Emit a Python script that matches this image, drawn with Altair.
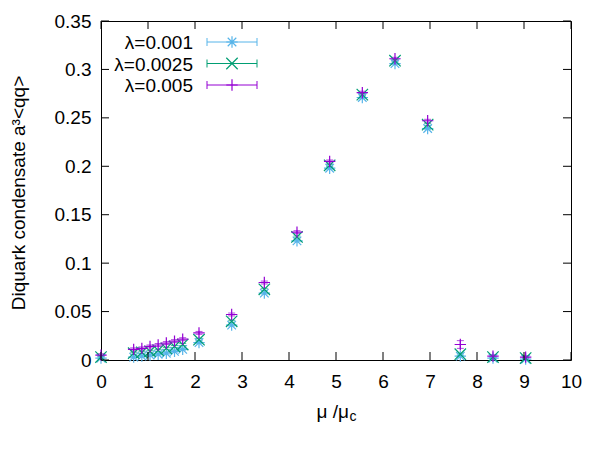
import altair as alt
import pandas as pd

# chemical potential in units of mu_c
mu = [0.0, 0.695, 0.869, 1.043, 1.216, 1.39, 1.564, 1.738, 2.085, 2.78,
      3.475, 4.17, 4.865, 5.56, 6.255, 6.95, 7.645, 8.34, 9.035]

# diquark condensate for the three source strengths
qq_0001 = [0.002, 0.003, 0.004, 0.005, 0.006, 0.007, 0.009, 0.011, 0.018, 0.036,
           0.069, 0.123, 0.198, 0.271, 0.306, 0.239, 0.004, 0.002, 0.001]
qq_00025 = [0.003, 0.007, 0.008, 0.009, 0.010, 0.012, 0.014, 0.016, 0.021, 0.040,
            0.073, 0.127, 0.201, 0.274, 0.309, 0.243, 0.006, 0.003, 0.002]
qq_0005 = [0.005, 0.011, 0.012, 0.014, 0.0155, 0.0175, 0.0195, 0.0215, 0.028, 0.047,
           0.080, 0.132, 0.205, 0.276, 0.311, 0.247, 0.016, 0.004, 0.003]

# statistical errors
err_0001 = [0.001] * 19
err_00025 = [0.001] * 19
err_0005 = [0.0015] * 16 + [0.004, 0.0015, 0.0015]

labels = ["λ=0.001", "λ=0.0025", "λ=0.005"]
colors = ["#56b4e9", "#009e73", "#9400d3"]

x_ticks = list(range(0, 11))
y_ticks = [0, 0.05, 0.1, 0.15, 0.2, 0.25, 0.3, 0.35]

# point symbols: star, cross, plus
STAR = "M-1,0L1,0M0,-1L0,1M-0.75,-0.75L0.75,0.75M-0.75,0.75L0.75,-0.75"
XSYM = "M-1,-1L1,1M-1,1L1,-1"
PLUS = "M-1,0L1,0M0,-1L0,1"
shapes = [STAR, XSYM, PLUS]

W, H = 470, 339
FONT = "Liberation Sans"
FS = 19

rows = []
for lab, ys, es in zip(labels, [qq_0001, qq_00025, qq_0005], [err_0001, err_00025, err_0005]):
    for xv, yv, ev in zip(mu, ys, es):
        rows.append({"series": lab, "mu": xv, "qq": yv, "lo": yv - ev, "hi": yv + ev})
df = pd.DataFrame(rows)

xs = alt.Scale(domain=[0, 10], nice=False, zero=False)
ys_ = alt.Scale(domain=[0, 0.35], nice=False, zero=False)
cs = alt.Scale(domain=labels, range=colors)
ss = alt.Scale(domain=labels, range=shapes)

base = alt.Chart(df)

points = base.mark_point(filled=False, strokeWidth=1.2, size=130, opacity=1).encode(
    x=alt.X("mu:Q", scale=xs,
            axis=alt.Axis(values=x_ticks, ticks=False, tickSize=0, domain=False, grid=False,
                          labelFont=FONT, labelFontSize=FS, labelColor="black",
                          labelFlush=False, labelOverlap=False,
                          labelPadding=21, labelBaseline="middle", title=None)),
    y=alt.Y("qq:Q", scale=ys_,
            axis=alt.Axis(values=y_ticks, ticks=False, tickSize=0, domain=False, grid=False,
                          labelFont=FONT, labelFontSize=FS, labelColor="black",
                          labelFlush=False, labelOverlap=False,
                          labelPadding=10, labelBaseline="middle", title=None,
                          labelExpr="datum.value == 0 ? '0' : format(datum.value, '.2~f')")),
    color=alt.Color("series:N", scale=cs, legend=None),
    shape=alt.Shape("series:N", scale=ss, legend=None),
    order=alt.Order("series:N"),
)

errbars = base.mark_rule(strokeWidth=1).encode(
    x=alt.X("mu:Q", scale=xs), y=alt.Y("lo:Q", scale=ys_), y2="hi:Q",
    color=alt.Color("series:N", scale=cs, legend=None),
)
caps_lo = base.mark_tick(orient="horizontal", size=7, thickness=1).encode(
    x=alt.X("mu:Q", scale=xs), y=alt.Y("lo:Q", scale=ys_),
    color=alt.Color("series:N", scale=cs, legend=None),
)
caps_hi = base.mark_tick(orient="horizontal", size=7, thickness=1).encode(
    x=alt.X("mu:Q", scale=xs), y=alt.Y("hi:Q", scale=ys_),
    color=alt.Color("series:N", scale=cs, legend=None),
)

# inward ticks on all four sides
xt = alt.Chart(pd.DataFrame({"v": x_ticks}))
yt = alt.Chart(pd.DataFrame({"v": y_ticks}))
tick_b = xt.mark_rule(color="black", strokeWidth=1).encode(
    x=alt.X("v:Q", scale=xs), y=alt.value(H), y2=alt.value(H - 8))
tick_t = xt.mark_rule(color="black", strokeWidth=1).encode(
    x=alt.X("v:Q", scale=xs), y=alt.value(0), y2=alt.value(8))
tick_l = yt.mark_rule(color="black", strokeWidth=1).encode(
    y=alt.Y("v:Q", scale=ys_), x=alt.value(0), x2=alt.value(8))
tick_r = yt.mark_rule(color="black", strokeWidth=1).encode(
    y=alt.Y("v:Q", scale=ys_), x=alt.value(W), x2=alt.value(W - 8))

# axis titles
one = alt.Chart(pd.DataFrame({"t": [0]}))
ytitle = one.mark_text(text="Diquark condensate a³<qq>", font=FONT, fontSize=FS, angle=270,
                       align="center", baseline="middle", color="black").encode(
    x=alt.value(-82), y=alt.value(172))
xtitle_main = one.mark_text(text="μ /μ", font=FONT, fontSize=FS, align="right",
                            baseline="alphabetic", color="black").encode(
    x=alt.value(248), y=alt.value(397))
xtitle_sub = one.mark_text(text="c", font=FONT, fontSize=14, align="left",
                           baseline="alphabetic", color="black").encode(
    x=alt.value(248.5), y=alt.value(400))

# key in the upper left corner
key_layers = []
row_y = [21, 42.5, 64]
for lab, col, shp, ry in zip(labels, colors, shapes, row_y):
    key_layers.append(one.mark_text(text=lab, font=FONT, fontSize=FS, align="right",
                                    baseline="middle", color="black").encode(
        x=alt.value(92), y=alt.value(ry + 1)))
    key_layers.append(one.mark_rule(color=col, strokeWidth=1).encode(
        x=alt.value(106), x2=alt.value(156), y=alt.value(ry)))
    key_layers.append(one.mark_rule(color=col, strokeWidth=1).encode(
        x=alt.value(106), y=alt.value(ry - 4), y2=alt.value(ry + 4)))
    key_layers.append(one.mark_rule(color=col, strokeWidth=1).encode(
        x=alt.value(156), y=alt.value(ry - 4), y2=alt.value(ry + 4)))
    key_layers.append(one.mark_point(shape=shp, filled=False, strokeWidth=1.2, size=130,
                                     color=col, opacity=1).encode(
        x=alt.value(131), y=alt.value(ry)))

chart = alt.layer(
    errbars, caps_lo, caps_hi, points,
    tick_b, tick_t, tick_l, tick_r,
    ytitle, xtitle_main, xtitle_sub, *key_layers,
).properties(
    width=W, height=H,
    autosize=alt.AutoSizeParams(type="none"),
    padding={"left": 101, "top": 21, "right": 29, "bottom": 90},
    background="white",
).configure_view(
    stroke="black", strokeWidth=1,
)

chart.save("out.html", embed_options={"renderer": "svg", "actions": False})
